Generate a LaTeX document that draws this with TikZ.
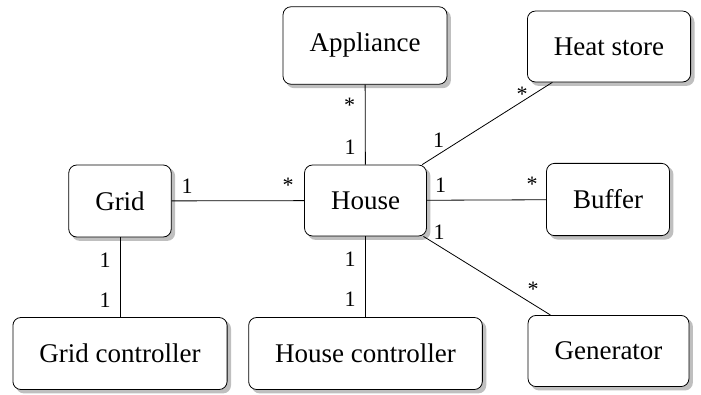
\documentclass[tikz,border=0pt]{standalone}
\usepackage{fontspec}
\setmainfont{Liberation Serif}
\usetikzlibrary{backgrounds}
\begin{document}
\begin{tikzpicture}[x=1pt,y=-1pt,
  cls/.style={draw,line width=0.8bp,fill=white,rounded corners=8pt,
    inner xsep=26.5pt,inner ysep=26.5pt,
    font=\fontsize{27}{32}\selectfont},
  clsshadow/.style={fill=black!25,rounded corners=8pt},
  mult/.style={anchor=base,inner sep=0pt,font=\fontsize{22}{26}\selectfont},
  assoc/.style={line width=0.8bp}]%
% class diagram, coordinates in pixels of the 701x394 page
\useasboundingbox (0,0) rectangle (701,394);
\node[cls] (appliance) at (365,45.5) {Appliance};
\node[cls] (heatstore) at (609,46.5) {Heat store};
\node[cls] (grid) at (120,201) {Grid};
\node[cls] (house) at (365.5,200.5) {House};
\node[cls] (buffer) at (608,199.5) {Buffer};
\node[cls] (gridctl) at (120,353.5) {Grid controller};
\node[cls] (housectl) at (365.5,353.5) {House controller};
\node[cls] (generator) at (608.5,351) {Generator};
\begin{scope}[on background layer]
\foreach \n in {appliance,heatstore,grid,house,buffer,gridctl,housectl,generator}
  \fill[clsshadow] ([shift={(3.5,3.5)}]\n.north west) rectangle ([shift={(3.5,3.5)}]\n.south east);
\end{scope}
\draw[assoc] (appliance) -- (house);
\draw[assoc] (heatstore) -- (house);
\draw[assoc] (grid) -- (house);
\draw[assoc] (house) -- (buffer);
\draw[assoc] (house) -- (generator);
\draw[assoc] (grid) -- (gridctl);
\draw[assoc] (house) -- (housectl);
\node[mult] (m-app-s) at (349.5,112) {*};
\node[mult] (m-app-1) at (350,154) {1};
\node[mult] (m-heat-s) at (522,101) {*};
\node[mult] (m-heat-1) at (438.5,147) {1};
\node[mult] (m-grid-1) at (187,193) {1};
\node[mult] (m-grid-s) at (288,192) {*};
\node[mult] (m-buf-1) at (440.5,192) {1};
\node[mult] (m-buf-s) at (532,191) {*};
\node[mult] (m-gen-1) at (439,239) {1};
\node[mult] (m-gen-s) at (533,296) {*};
\node[mult] (m-gc-1) at (105,267) {1};
\node[mult] (m-gc-2) at (105,307) {1};
\node[mult] (m-hc-1) at (350,266) {1};
\node[mult] (m-hc-2) at (350,306) {1};
\end{tikzpicture}
\end{document}
